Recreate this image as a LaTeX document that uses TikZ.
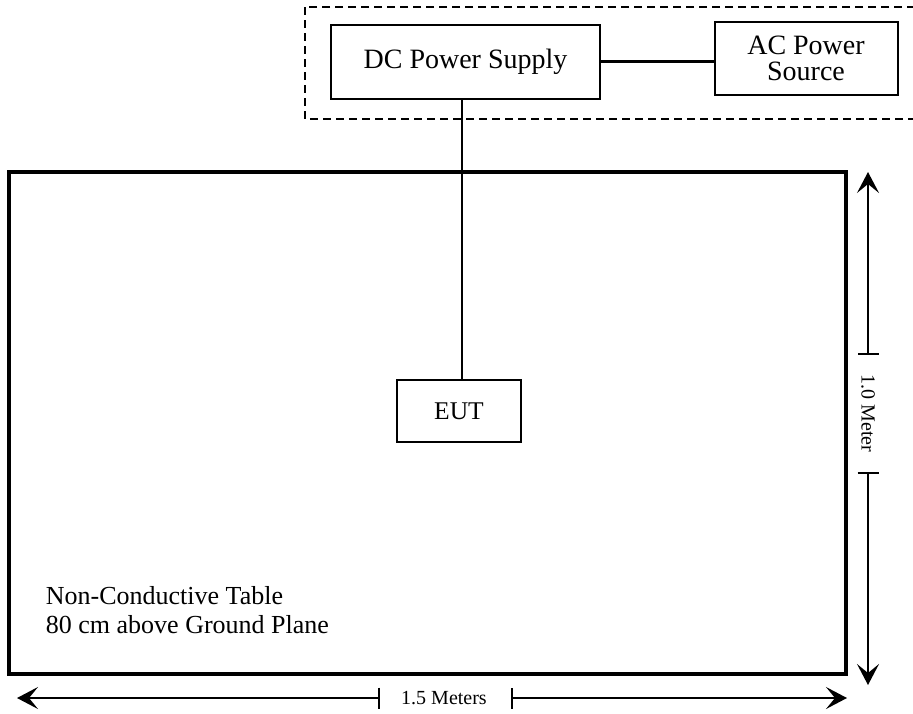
\documentclass[tikz,border=0pt]{standalone}
\usepackage{fontspec}
\setmainfont{Liberation Serif}
\usetikzlibrary{arrows.meta}
\tikzset{
  box/.style={draw, line width=2pt, inner sep=0pt, align=center},
  dim/.style={line width=1.8pt, {Bar[width=21pt,line width=1.8pt]}-{Stealth[length=21pt,width=22pt,inset=9pt]}},
  dimtext/.style={inner sep=0pt, font=\fontsize{20}{22}\selectfont}
}
\begin{document}
\begin{tikzpicture}[x=1pt,y=-1pt]
\useasboundingbox (0,0) rectangle (913,713);
\clip (0,0) rectangle (913,713);
\draw[dash pattern=on 8pt off 5pt, line width=2pt] (305,7) rectangle (940,119);
\draw[line width=3.5pt] (9,172) rectangle (846,674);
\node[box, minimum width=269pt, minimum height=74pt, font=\fontsize{28}{30}\selectfont] (DC) at (465.5,62) {DC Power Supply};
\node[box, minimum width=183pt, minimum height=73pt, font=\fontsize{28}{26}\selectfont] (AC) at (806,58.5) {AC Power\\Source};
\node[box, minimum width=124pt, minimum height=62pt, font=\fontsize{25.5}{28}\selectfont] (EUT) at (459,411) {EUT};
\node[anchor=base west, inner sep=0pt, align=left, font=\fontsize{26}{29}\selectfont] (table) at (45.7,633) {Non-Conductive Table\\80 cm above Ground Plane};
\coordinate (cable) at (461.5,0);
\draw[line width=3pt] (AC.west |- 0,61) -- (DC.east |- 0,61);
\draw[line width=2pt] (DC.south -| cable) -- (EUT.north -| cable);
\node[dimtext, rotate=-90] (height) at (868,413.5) {1.0 Meter};
\node[dimtext] (width) at (444,698) {1.5 Meters};
\coordinate (vtick1) at (868,355);
\coordinate (vtick2) at (868,472);
\coordinate (htick1) at (380,698);
\coordinate (htick2) at (511,698);
\coordinate (vtop) at (868,172);
\coordinate (vbot) at (868,685);
\coordinate (hleft) at (17,698);
\coordinate (hright) at (847,698);
\foreach \from/\to in {vtick1/vtop,vtick2/vbot,htick1/hleft,htick2/hright}
\draw[dim] (\from) -- (\to);
\end{tikzpicture}
\end{document}
